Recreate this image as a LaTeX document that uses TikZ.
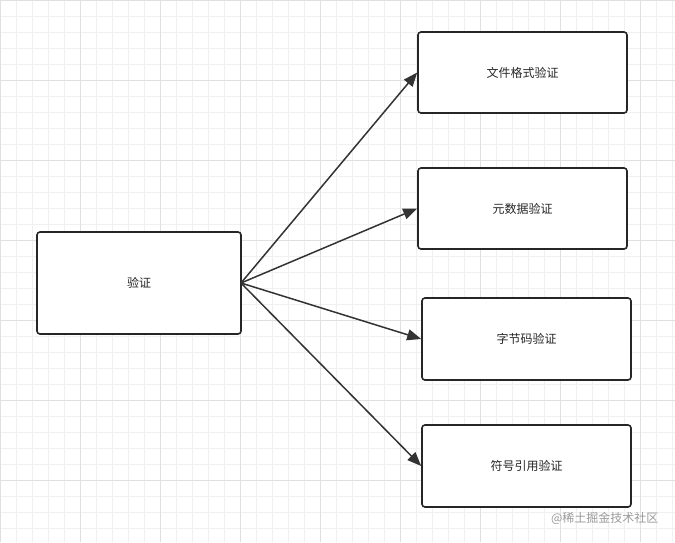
\documentclass[tikz,border=0pt]{standalone}
\usepackage{fontspec}
\setmainfont{Noto Sans CJK SC}
\usetikzlibrary{arrows.meta}
\begin{document}
\begin{tikzpicture}[x=1pt,y=-1pt,
  box/.style={draw=black!85,line width=1.6pt,rounded corners=3pt,fill=white,font=\fontsize{12}{14}\selectfont,text=black!85},
  arr/.style={draw=black!80,line width=1.5pt,-{Triangle[length=14pt,width=11pt]}}]
\fill[white] (0,0) rectangle (675,542);
\useasboundingbox (0,0) rectangle (675,542);
\foreach \i in {0,16,...,672} \draw[black!6,line width=0.5pt] (\i,0) -- (\i,542);
\foreach \i in {0,16,...,540} \draw[black!6,line width=0.5pt] (0,\i) -- (675,\i);
\foreach \i in {0,80,...,672} \draw[black!12,line width=0.6pt] (\i,0) -- (\i,542);
\foreach \i in {0,80,...,540} \draw[black!12,line width=0.6pt] (0,\i) -- (675,\i);
\node[box,minimum width=204,minimum height=102] (v) at (139,283) {验证};
\node[box,minimum width=209,minimum height=81] (a) at (522.5,72.5) {文件格式验证};
\node[box,minimum width=209,minimum height=81] (b) at (522.5,208.5) {元数据验证};
\node[box,minimum width=209,minimum height=82] (c) at (526.5,339) {字节码验证};
\node[box,minimum width=209,minimum height=82] (d) at (526.5,466) {符号引用验证};
\coordinate (o) at (241,283);
\draw[arr] (o) -- (a.west);
\draw[arr] (o) -- (b.west);
\draw[arr] (o) -- (c.west);
\draw[arr] (o) -- (d.west);
\node[text=black!40,font=\fontsize{12}{14}\selectfont,anchor=east] (w) at (662,518) {@稀土掘金技术社区};
\end{tikzpicture}
\end{document}
